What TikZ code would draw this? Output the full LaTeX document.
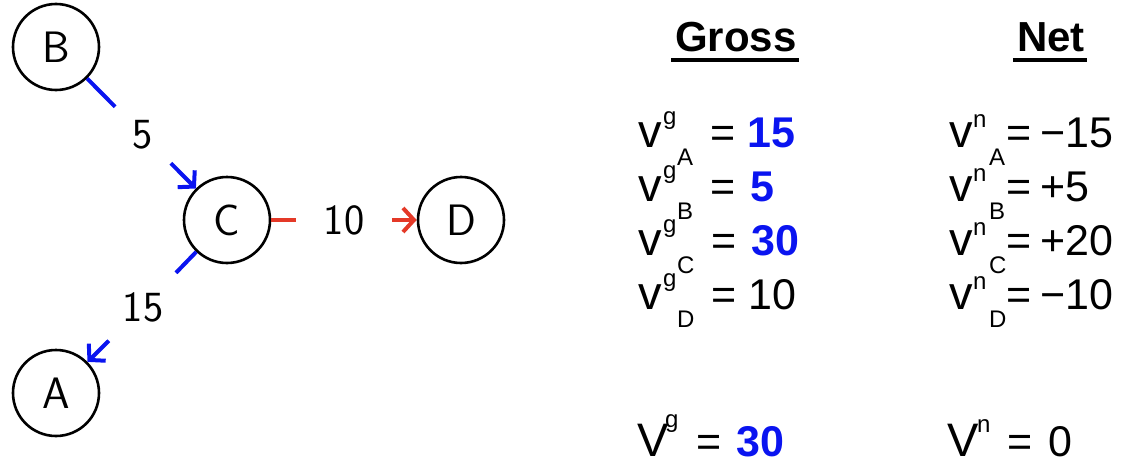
\documentclass[tikz,border=0pt]{standalone}
\usepackage{fontspec}
\newfontfamily\rf{Liberation Sans}
\usetikzlibrary{arrows.meta,calc}
\definecolor{myred}{RGB}{228,57,40}
\definecolor{myblue}{RGB}{10,20,240}
\begin{document}
\begin{tikzpicture}[x=1pt,y=1pt,
 vtx/.style={circle,draw,line width=2.6pt,minimum size=86pt,inner sep=0pt,font=\sffamily\fontsize{44}{50}\selectfont},
 lab/.style={inner sep=0pt,font=\sffamily\fontsize{43}{50}\selectfont},
 bl/.style={myblue,line width=4pt},
 rd/.style={myred,line width=4pt},
 tip/.style={-{Straight Barb[length=11pt,width=24pt]}},
 big/.style={anchor=base west,inner sep=0pt,font=\rf\fontsize{43}{50}\selectfont},
 vv/.style={anchor=base west,inner sep=0pt,font=\rf\fontsize{47}{50}\selectfont},
 sm/.style={anchor=base west,inner sep=0pt,font=\rf\fontsize{24}{28}\selectfont},
 val/.style={anchor=base west,inner sep=0pt,font=\rf\bfseries\fontsize{43}{50}\selectfont,text=myblue},
 head/.style={anchor=base,inner sep=0pt,font=\rf\bfseries\fontsize{42}{46}\selectfont},
 uline/.style={line width=4pt}]
\useasboundingbox (0,0) rectangle (1132,-460);
% graph
\node[vtx] (B) at (56,-47) {B};
\node[vtx] (C) at (227,-220) {C};
\node[vtx] (D) at (461,-220) {D};
\node[vtx] (A) at (56,-393) {A};
\node[lab,minimum size=56pt] (l5) at (143,-135) {5};
\node[lab,minimum size=68pt] (l15) at (143,-307) {15};
\node[lab,minimum width=96pt,minimum height=40pt] (l10) at (344,-220) {10};
\draw[bl] (B) -- (l5);
\draw[bl,tip] (l5) -- (C);
\draw[bl] (C) -- (l15);
\draw[bl,tip] (l15) -- (A);
\draw[rd] (C) -- (l10);
\draw[rd,tip] (l10) -- (D);
% headers
\node[head] (gross) at (736,-52) {Gross};
\node[head] (net) at (1051,-52) {Net};
\draw[uline] ($(gross.base west)+(-4,-8)$) -- ($(gross.base east)+(2,-8)$);
\draw[uline] ($(net.base west)+(-4,-8)$) -- ($(net.base east)+(2,-8)$);
% gross rows
\node[vv] (gv1) at (638,-147) {v};
\node[sm] (gs1) at (663,-124.5) {g};
\node[sm] (gb1) at (677,-165) {A};
\node[big] (ge1) at (710,-147) {=};
\node[val] (gx1) at (747,-147) {15};
\node[vv] (gv2) at (638,-201) {v};
\node[sm] (gs2) at (663,-178.5) {g};
\node[sm] (gb2) at (677,-219) {B};
\node[big] (ge2) at (710,-201) {=};
\node[val] (gx2) at (750,-201) {5};
\node[vv] (gv3) at (638,-255) {v};
\node[sm] (gs3) at (663,-232.5) {g};
\node[sm] (gb3) at (677,-273) {C};
\node[big] (ge3) at (711,-255) {=};
\node[val] (gx3) at (751,-255) {30};
\node[vv] (gv4) at (638,-309) {v};
\node[sm] (gs4) at (663,-286.5) {g};
\node[sm] (gb4) at (677,-327) {D};
\node[big] (ge4) at (711,-309) {=};
\node[big] (gx4) at (748,-309) {10};
% net rows
\node[vv] (nv1) at (949,-147) {v};
\node[sm] (ns1) at (973,-127.5) {n};
\node[sm] (nb1) at (989,-165) {A};
\node[big] (ne1) at (1006,-147) {=};
\node[big] (nx1) at (1040,-147) {−15};
\node[vv] (nv2) at (949,-201) {v};
\node[sm] (ns2) at (973,-181.5) {n};
\node[sm] (nb2) at (989,-219) {B};
\node[big] (ne2) at (1006,-201) {=};
\node[big] (nx2) at (1040,-201) {+5};
\node[vv] (nv3) at (949,-255) {v};
\node[sm] (ns3) at (973,-235.5) {n};
\node[sm] (nb3) at (989,-273) {C};
\node[big] (ne3) at (1006,-255) {=};
\node[big] (nx3) at (1040,-255) {+20};
\node[vv] (nv4) at (949,-309) {v};
\node[sm] (ns4) at (973,-289.5) {n};
\node[sm] (nb4) at (989,-327) {D};
\node[big] (ne4) at (1006,-309) {=};
\node[big] (nx4) at (1040,-309) {−10};
% totals
\node[vv] (tgV) at (637,-456) {V};
\node[sm] (tgs) at (665,-427.5) {g};
\node[big] (tge) at (696,-456) {=};
\node[val] (tgx) at (736,-456) {30};
\node[vv] (tnV) at (947,-456) {V};
\node[sm] (tns) at (977,-432) {n};
\node[big] (tne) at (1007,-456) {=};
\node[big] (tnx) at (1048,-456) {0};
\end{tikzpicture}
\end{document}
